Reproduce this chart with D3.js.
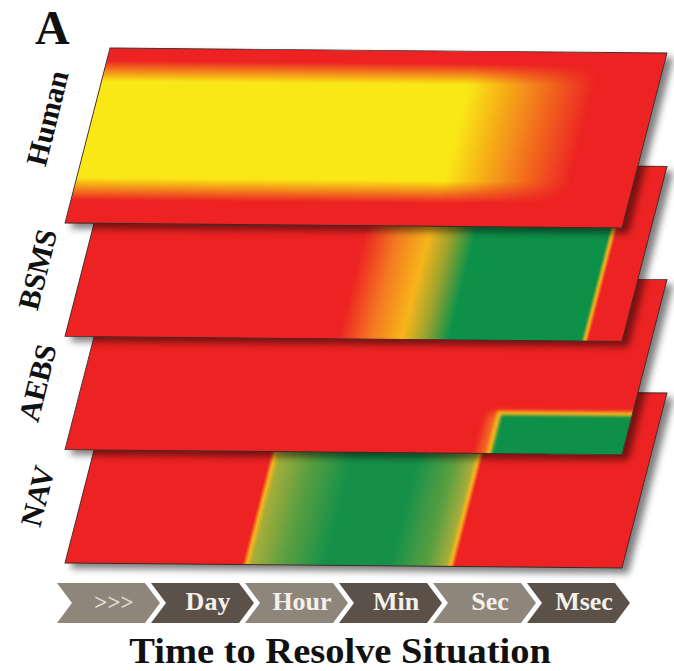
<!DOCTYPE html>
<html>
<head>
<meta charset="utf-8">
<script src="https://cdn.jsdelivr.net/npm/d3@7"></script>
<style>
  body { margin: 0; background: #fff; }
  text { font-family: "Liberation Serif", "Times New Roman", serif; font-weight: bold; }
</style>
</head>
<body>
<script>
const width = 674, height = 671;

// systems, top plane first
const systems = ["Human", "BSMS", "AEBS", "NAV"];
const timeLabels = [">>>", "Day", "Hour", "Min", "Sec", "Msec"];

// colour stops along the time axis (0 = slow / left, 1 = fast / right)
const bsmsStops = [[0, "#ed2024"], [0.488, "#ed2024"], [0.55, "#f47b20"], [0.605, "#f7b51b"],
                   [0.645, "#9aa22e"], [0.69, "#07914a"], [0.926, "#07914a"], [0.933, "#f7b51b"],
                   [0.94, "#ed2024"], [1, "#ed2024"]];
const navStops = [[0, "#ed2024"], [0.318, "#ed2024"], [0.326, "#f7b51b"], [0.335, "#a5ad3a"],
                  [0.39, "#5c9f40"], [0.47, "#12904a"], [0.58, "#12904a"], [0.65, "#5c9f40"],
                  [0.684, "#a5ad3a"], [0.692, "#f7b51b"], [0.70, "#ed2024"], [1, "#ed2024"]];
// human: yellow core, opacity across time and across depth
const humanTimeStops = [[0, 1], [0.66, 1], [0.89, 0], [1, 0]];
const humanDepthStops = [[0, 0], [0.07, 0], [0.19, 1], [0.74, 1], [0.87, 0], [1, 0]];
// AEBS: green corner region starts at [time, depth]
const aebsStart = [0.76, 0.78];

const red = "#ed2024", yellow = "#f9e814", amber = "#f7b51b", green = "#07914a";

const W = 557, H = 175;      // plane size in its own (unskewed) frame
const skew = 45, tilt = 5;  // perspective shear in px

const x = d3.scaleLinear().domain([0, 1]).range([0, W]);
const depth = d3.scaleLinear().domain([0, 1]).range([0, H]);
const planeTop = d3.scalePoint().domain(systems).range([48, 388]);
const band = d3.scaleBand().domain(timeLabels).range([57, 57 + 94 * timeLabels.length]);

const svg = d3.select("body").append("svg")
    .attr("width", width)
    .attr("height", height);

const defs = svg.append("defs");

const shadow = defs.append("filter").attr("id", "shadow")
    .attr("x", "-10%").attr("y", "-10%").attr("width", "130%").attr("height", "130%");
shadow.append("feDropShadow")
    .attr("dx", 6).attr("dy", 5).attr("stdDeviation", 3.5)
    .attr("flood-color", "#000").attr("flood-opacity", 0.5);

defs.append("clipPath").attr("id", "plane-clip")
  .append("rect").attr("width", W).attr("height", H);

function addGradient(id, stops, vertical) {
  const g = defs.append("linearGradient").attr("id", id)
      .attr("x1", 0).attr("y1", 0)
      .attr("x2", vertical ? 0 : 1).attr("y2", vertical ? 1 : 0);
  g.selectAll("stop").data(stops).enter().append("stop")
      .attr("offset", d => d[0])
      .attr("stop-color", d => d[1]);
  return g;
}
addGradient("g-BSMS", bsmsStops);
addGradient("g-NAV", navStops);

const hx = defs.append("linearGradient").attr("id", "g-human-x");
hx.selectAll("stop").data(humanTimeStops).enter().append("stop")
    .attr("offset", d => d[0]).attr("stop-color", yellow).attr("stop-opacity", d => d[1]);
const hy = defs.append("linearGradient").attr("id", "g-human-y")
    .attr("x1", 0).attr("y1", 0).attr("x2", 0).attr("y2", 1);
hy.selectAll("stop").data(humanDepthStops).enter().append("stop")
    .attr("offset", d => d[0]).attr("stop-color", "#fff").attr("stop-opacity", d => d[1]);
defs.append("mask").attr("id", "m-human")
    .attr("maskUnits", "userSpaceOnUse").attr("x", 0).attr("y", 0).attr("width", W).attr("height", H)
  .append("rect").attr("width", W).attr("height", H).attr("fill", "url(#g-human-y)");

const blur = (id, s) => defs.append("filter").attr("id", id)
    .attr("x", "-20%").attr("y", "-20%").attr("width", "140%").attr("height", "140%")
  .append("feGaussianBlur").attr("stdDeviation", s);
blur("blur-wide", 4.5);
blur("blur-narrow", 1.6);

// planes, drawn bottom first
const planes = svg.append("g");
systems.slice().reverse().forEach(name => {
  const outer = planes.append("g").attr("filter", "url(#shadow)");
  const p = outer.append("g")
      .attr("transform", `matrix(1,${tilt / W},${-skew / H},1,110,${planeTop(name)})`);
  const inner = p.append("g").attr("clip-path", "url(#plane-clip)");

  inner.append("rect").attr("width", W).attr("height", H).attr("fill", red);

  if (name === "Human") {
    inner.append("g").attr("mask", "url(#m-human)")
      .append("rect").attr("width", W).attr("height", H).attr("fill", "url(#g-human-x)");
  } else if (name === "AEBS") {
    inner.append("rect")
        .attr("x", x(aebsStart[0]) - 10).attr("y", depth(aebsStart[1]) - 2)
        .attr("width", W).attr("height", H)
        .attr("fill", "#f26a21").attr("filter", "url(#blur-wide)");
    inner.append("rect")
        .attr("x", x(aebsStart[0]) - 2).attr("y", depth(aebsStart[1]) - 4)
        .attr("width", W).attr("height", H)
        .attr("fill", amber).attr("filter", "url(#blur-narrow)");
    inner.append("rect")
        .attr("x", x(aebsStart[0]) + 3).attr("y", depth(aebsStart[1]))
        .attr("width", W).attr("height", H)
        .attr("fill", green).attr("filter", "url(#blur-narrow)");
  } else {
    inner.append("rect").attr("width", W).attr("height", H).attr("fill", `url(#g-${name})`);
  }

  p.append("rect").attr("width", W).attr("height", H)
      .attr("fill", "none").attr("stroke", "#3a2a28").attr("stroke-width", 0.9);
});

// system labels along the slanted left edges
svg.append("g").selectAll("text")
  .data(systems)
  .enter().append("text")
    .attr("transform", (d, i) => {
      const ly = i === 0 ? 70 : 108;
      const cx = 110 - skew * ly / H - 45;
      return `translate(${cx},${planeTop(d) + ly}) rotate(-76)`;
    })
    .attr("text-anchor", "middle")
    .attr("dy", "0.35em")
    .attr("font-size", 30)
    .attr("fill", "#111")
    .text(d => d);

// time chevrons
const chevH = 40, chevP = 15, chevW = band.step() - 6;
const chevY = 583;
const chev = svg.append("g").selectAll("g")
  .data(timeLabels)
  .enter().append("g")
    .attr("transform", d => `translate(${band(d)},${chevY})`);

chev.append("path")
    .attr("d", `M0,0H${chevW}L${chevW + chevP},${chevH / 2}L${chevW},${chevH}H0L${chevP},${chevH / 2}Z`)
    .attr("fill", (d, i) => i % 2 ? "#5b5148" : "#8e867a");

chev.append("text")
    .attr("x", (chevW + 2 * chevP) / 2 - 2)
    .attr("y", 27)
    .attr("text-anchor", "middle")
    .attr("font-size", (d, i) => i === 0 ? 23 : 26)
    .attr("font-weight", (d, i) => i === 0 ? "normal" : "bold")
    .attr("fill", (d, i) => i === 0 ? "#e4dfd8" : "#f4f0ea")
    .text(d => d);

// axis title
svg.append("text")
    .attr("transform", "translate(340,663) scale(1.1,1)")
    .attr("text-anchor", "middle")
    .attr("font-size", 35)
    .attr("fill", "#111")
    .text("Time to Resolve Situation");

// panel letter
svg.append("text")
    .attr("x", 35).attr("y", 44)
    .attr("font-size", 48)
    .attr("fill", "#111")
    .text("A");
</script>
</body>
</html>
